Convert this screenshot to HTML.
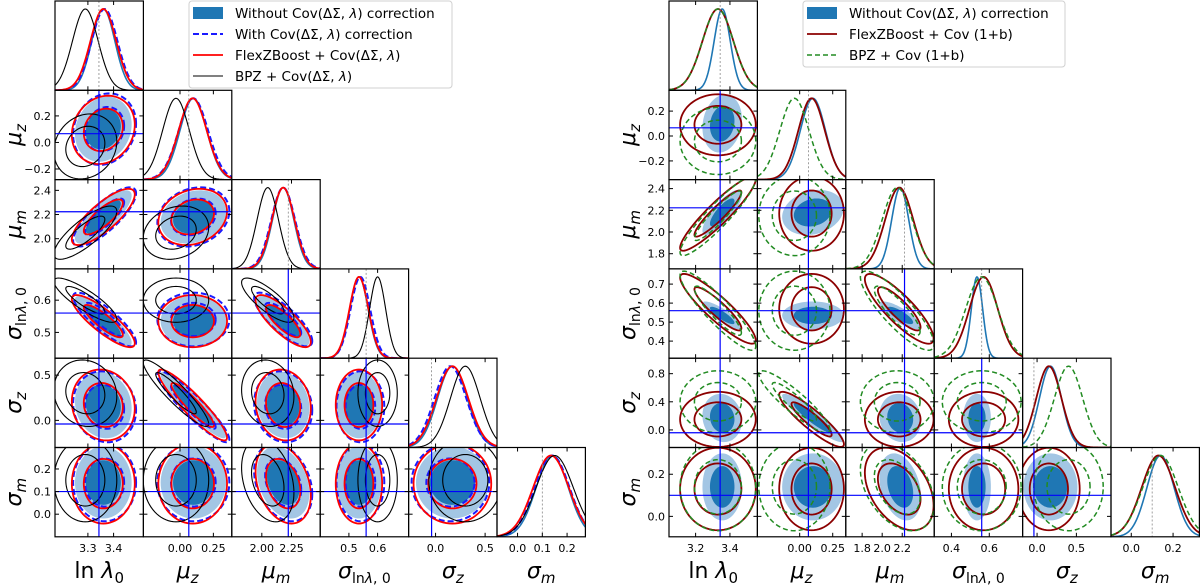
<!DOCTYPE html>
<html><head><meta charset="utf-8"><style>
body{margin:0;background:#fff;width:1200px;height:586px;overflow:hidden}
svg{display:block;font-family:"DejaVu Sans","Liberation Sans",sans-serif}
.tl{font-size:11px;fill:#000}
.al{font-family:"DejaVu Sans","Liberation Sans",sans-serif;font-style:italic;font-size:22px;fill:#000}
.lg{font-family:"DejaVu Sans","Liberation Sans",sans-serif;font-size:13.5px;fill:#000}
</style></head><body>
<svg id="chart" width="1200" height="586" viewBox="0 0 1200 586" xmlns="http://www.w3.org/2000/svg"></svg>
<script>
// ---------- data ----------
const paramLabels = ["ln λ0","μz","μm","σlnλ,0","σz","σm"];
const truthValues = [3.343, 0.066, 2.223, 0.56, -0.04, 0.1];
// left plot datasets
const leftWithoutMean = [3.36, 0.10, 2.18, 0.535, 0.17, 0.14];
const leftWithoutSd   = [0.045, 0.10, 0.09, 0.032, 0.15, 0.065];
const leftWithMean    = [3.365, 0.10, 2.18, 0.54, 0.15, 0.14];
const leftWithSd      = [0.05, 0.11, 0.10, 0.034, 0.16, 0.07];
const leftFlexMean    = [3.36, 0.095, 2.18, 0.535, 0.17, 0.135];
const leftFlexSd      = [0.05, 0.105, 0.095, 0.033, 0.16, 0.072];
const leftBpzMean     = [3.29, -0.03, 2.05, 0.60, 0.30, 0.15];
const leftBpzSd       = [0.05, 0.10, 0.09, 0.028, 0.15, 0.075];
// right plot datasets
const rightWithoutMean = [3.355, 0.10, 2.18, 0.535, 0.17, 0.14];
const rightWithoutSd   = [0.047, 0.095, 0.085, 0.03, 0.14, 0.065];
const rightFlexMean    = [3.33, 0.09, 2.17, 0.57, 0.15, 0.13];
const rightFlexSd      = [0.09, 0.10, 0.14, 0.075, 0.16, 0.08];
const rightBpzMean     = [3.33, -0.04, 2.15, 0.56, 0.40, 0.14];
const rightBpzSd       = [0.09, 0.11, 0.15, 0.085, 0.18, 0.085];
// correlations [i,j,rho]
const leftCorr = [[0,1,0.15],[0,2,0.8],[0,3,-0.85],[0,4,-0.1],[1,2,0.2],[1,4,-0.92],[2,3,-0.8],[2,4,-0.1],[2,5,-0.3]];
const rightCorr = [[0,2,0.92],[0,3,-0.9],[1,4,-0.9],[2,3,-0.85],[2,5,-0.4]];
// ticks
const leftXTicks = [[3.3,3.4],[0,0.25],[2.0,2.25],[0.5,0.6],[0,0.5],[0,0.1,0.2]];
const leftXTickLabels = [["3.3","3.4"],["0.00","0.25"],["2.00","2.25"],["0.5","0.6"],["0.0","0.5"],["0.0","0.1","0.2"]];
const leftYTicks = [[],[-0.2,0,0.2],[2.0,2.2,2.4],[0.5,0.6],[0,0.5],[0,0.1,0.2]];
const leftYTickLabels = [[],["−0.2","0.0","0.2"],["2.0","2.2","2.4"],["0.5","0.6"],["0.0","0.5"],["0.0","0.1","0.2"]];
const rightXTicks = [[3.2,3.4],[0,0.25],[1.8,2.0,2.2],[0.4,0.6],[0,0.5],[0,0.2]];
const rightXTickLabels = [["3.2","3.4"],["0.00","0.25"],["1.8","2.0","2.2"],["0.4","0.6"],["0.0","0.5"],["0.0","0.2"]];
const rightYTicks = [[],[-0.2,0,0.2],[1.8,2.0,2.2,2.4],[0.4,0.5,0.6,0.7],[0,0.4,0.8],[0,0.2]];
const rightYTickLabels = [[],["−0.2","0.0","0.2"],["1.8","2.0","2.2","2.4"],["0.4","0.5","0.6","0.7"],["0.0","0.4","0.8"],["0.0","0.2"]];
// axis domains
const leftXDomain = [[3.172,3.516],[-0.274,0.388],[1.747,2.492],[0.40,0.708],[-0.272,0.62],[-0.083,0.274]];
const leftYDomain = [[3.172,3.516],[-0.28,0.393],[1.75,2.489],[0.42,0.697],[-0.30,0.687],[-0.10,0.295]];
const rightXDomain = [[3.045,3.56],[-0.32,0.349],[1.637,2.519],[0.309,0.776],[-0.184,0.94],[-0.097,0.326]];
const rightYDomain = [[3.045,3.56],[-0.35,0.367],[1.66,2.483],[0.31,0.78],[-0.25,1.02],[-0.097,0.327]];

// ---------- drawing ----------
const NS="http://www.w3.org/2000/svg";
const svg=document.getElementById('chart');
function mk(tag,attrs,parent){const e=document.createElementNS(NS,tag);for(const k in attrs)e.setAttribute(k,attrs[k]);(parent||svg).appendChild(e);return e;}
const CW=88.4, CH=89.3, Y0=1;
function corrOf(list,i,j){for(const c of list){if((c[0]===i&&c[1]===j)||(c[0]===j&&c[1]===i))return c[2];}return 0;}

function drawCorner(side,X0,xDom,yDom,xT,xTL,yT,yTL,sets,clipPrefix){
  const g=mk('g',{});
  
  
  for(let r=0;r<6;r++){for(let c=0;c<=r;c++){
    const px=X0+c*CW, py=Y0+r*CH;
    const pg=mk('g',{},g);
    
    
    const cid=clipPrefix+r+'_'+c;
    const cp=mk('clipPath',{id:cid},pg); mk('rect',{x:px,y:py,width:CW,height:CH},cp);
    const inner=mk('g',{'clip-path':'url(#'+cid+')'},pg);
    const sx=v=>px+(v-xDom[c][0])/(xDom[c][1]-xDom[c][0])*CW;
    if(r===c){
      const xd=xDom[c];
      for(const s of sets){
        let d='';
        for(let k=0;k<=120;k++){const v=xd[0]+(xd[1]-xd[0])*k/120;const z=(v-s.mean[c])/s.sd[c];const f=Math.exp(-0.5*z*z);
          d+=(k?'L':'M')+sx(v).toFixed(2)+','+(py+CH-f*(CH-8)).toFixed(2);}
        const p=mk('path',{d:d,fill:'none',stroke:s.line,'stroke-width':s.w,'stroke-dasharray':s.dash||'none'},inner);
        
        
      }
      const tl=mk('line',{x1:sx(truthValues[c]),x2:sx(truthValues[c]),y1:py,y2:py+CH,stroke:'#888','stroke-width':0.8,'stroke-dasharray':'2,2'},inner);
      
      
    } else {
      const sy=v=>py+CH-(v-yDom[r][0])/(yDom[r][1]-yDom[r][0])*CH;
      const ell=(s,rad)=>{const rho=corrOf(s.corr,c,r);let d='';
        for(let k=0;k<=80;k++){const t=2*Math.PI*k/80;const x=s.mean[c]+s.sd[c]*rad*Math.cos(t);
          const y=s.mean[r]+s.sd[r]*rad*(rho*Math.cos(t)+Math.sqrt(1-rho*rho)*Math.sin(t));
          d+=(k?'L':'M')+sx(x).toFixed(2)+','+sy(y).toFixed(2);}return d+'Z';};
      for(const s of sets){
        if(s.fill){
          const a=mk('path',{d:ell(s,2.45),fill:'#a3c6e4',stroke:'none'},inner);
          
          
          const b=mk('path',{d:ell(s,1.52),fill:'#1f77b4',stroke:'none'},inner);
          
          
        } else {
          for(const rad of [1.52,2.45]){
            const p=mk('path',{d:ell(s,rad),fill:'none',stroke:s.line,'stroke-width':s.w,'stroke-dasharray':s.dash||'none'},inner);
            
            
          }
        }
      }
      const v=mk('line',{x1:sx(truthValues[c]),x2:sx(truthValues[c]),y1:py,y2:py+CH,stroke:'#0000ff','stroke-width':1.2},inner);
      
      
      const h=mk('line',{x1:px,x2:px+CW,y1:sy(truthValues[r]),y2:sy(truthValues[r]),stroke:'#0000ff','stroke-width':1.2},inner);
      
      
      yT[r].forEach((t,k)=>{const yy=sy(t);
        mk('line',{x1:px,x2:px+4,y1:yy,y2:yy,stroke:'#000','stroke-width':1},pg);
        mk('line',{x1:px+CW-4,x2:px+CW,y1:yy,y2:yy,stroke:'#000','stroke-width':1},pg);
        if(c===0){const tx=mk('text',{x:px-4,y:yy+4,'text-anchor':'end',class:'tl'},pg);tx.textContent=yTL[r][k];
          
          }
      });
    }
    xT[c].forEach((t,k)=>{const xx=sx(t);
      mk('line',{x1:xx,x2:xx,y1:py+CH-4,y2:py+CH,stroke:'#000','stroke-width':1},pg);
      mk('line',{x1:xx,x2:xx,y1:py,y2:py+4,stroke:'#000','stroke-width':1},pg);
      if(r===5){const tx=mk('text',{x:xx,y:py+CH+15,'text-anchor':'middle',class:'tl'},pg);tx.textContent=xTL[c][k];
        
        }
    });
    const fr=mk('rect',{x:px,y:py,width:CW,height:CH,fill:'none',stroke:'#000','stroke-width':1.2},pg);
    
    
  }}
  const labHtml=['<tspan font-style="normal">ln</tspan> λ<tspan font-size="15" dy="5" font-style="normal">0</tspan>',
    'μ<tspan font-size="15" dy="5">z</tspan>','μ<tspan font-size="15" dy="5">m</tspan>',
    'σ<tspan font-size="14" dy="5" font-style="normal">ln</tspan><tspan font-size="14">λ</tspan><tspan font-size="14" font-style="normal">, 0</tspan>',
    'σ<tspan font-size="15" dy="5">z</tspan>','σ<tspan font-size="15" dy="5">m</tspan>'];
  for(let c=0;c<6;c++){
    const t=mk('text',{x:X0+c*CW+CW/2,y:578,'text-anchor':'middle',class:'al'},g);
    t.innerHTML=labHtml[c];
    
    
  }
  for(let r=1;r<6;r++){
    const cx=X0-34, cy=Y0+r*CH+CH/2;
    const t=mk('text',{x:cx,y:cy,'text-anchor':'middle',class:'al',transform:'rotate(-90 '+cx+' '+cy+')'},g);
    t.innerHTML=labHtml[r];
    
    
  }
}

const leftSets=[
 {name:'without-correction',mean:leftWithoutMean,sd:leftWithoutSd,corr:leftCorr,fill:true,line:'#1f77b4',w:1.6},
 {name:'with-correction',mean:leftWithMean,sd:leftWithSd,corr:leftCorr,line:'#1a1aff',w:2,dash:'6,3'},
 {name:'flexzboost',mean:leftFlexMean,sd:leftFlexSd,corr:leftCorr,line:'#ff0000',w:1.8},
 {name:'bpz',mean:leftBpzMean,sd:leftBpzSd,corr:leftCorr,line:'#000',w:1.1}];
const rightSets=[
 {name:'without-correction',mean:rightWithoutMean,sd:rightWithoutSd,corr:leftCorr,fill:true,line:'#1f77b4',w:1.6},
 {name:'flexzboost-1b',mean:rightFlexMean,sd:rightFlexSd,corr:rightCorr,line:'#8b0000',w:1.8},
 {name:'bpz-1b',mean:rightBpzMean,sd:rightBpzSd,corr:rightCorr,line:'#228b22',w:1.5,dash:'5,3'}];
drawCorner('left',55,leftXDomain,leftYDomain,leftXTicks,leftXTickLabels,leftYTicks,leftYTickLabels,leftSets,'cl');
drawCorner('right',669,rightXDomain,rightYDomain,rightXTicks,rightXTickLabels,rightYTicks,rightYTickLabels,rightSets,'cr');

function legend(side,x,y,w,h,entries){
  const g=mk('g',{});
  
  
  mk('rect',{x:x,y:y,width:w,height:h,rx:3,fill:'#fff','fill-opacity':0.9,stroke:'#d0d0d0'},g);
  entries.forEach((e,k)=>{const yy=y+12+k*21;
    const eg=mk('g',{},g);
    
    
    if(e.fill)mk('rect',{x:x+4,y:yy-6,width:30,height:12,fill:'#1f77b4'},eg);
    else mk('line',{x1:x+4,x2:x+34,y1:yy,y2:yy,stroke:e.line,'stroke-width':e.w,'stroke-dasharray':e.dash||'none'},eg);
    const t=mk('text',{x:x+46,y:yy+5,class:'lg'},eg);t.innerHTML=e.label;
  });
}
const cv='Cov(ΔΣ, <tspan font-style="italic">λ</tspan>)';
legend('left',189,1,263,87,[
 {fill:true,label:'Without '+cv+' correction'},
 {line:'#1a1aff',w:2,dash:'6,3',label:'With '+cv+' correction'},
 {line:'#ff0000',w:1.8,label:'FlexZBoost + '+cv},
 {line:'#000',w:1.1,label:'BPZ + '+cv}]);
legend('right',803,1,262,66,[
 {fill:true,label:'Without '+cv+' correction'},
 {line:'#8b0000',w:1.8,label:'FlexZBoost + Cov (1+b)'},
 {line:'#228b22',w:1.5,dash:'5,3',label:'BPZ + Cov (1+b)'}]);
</script>
</body></html>
